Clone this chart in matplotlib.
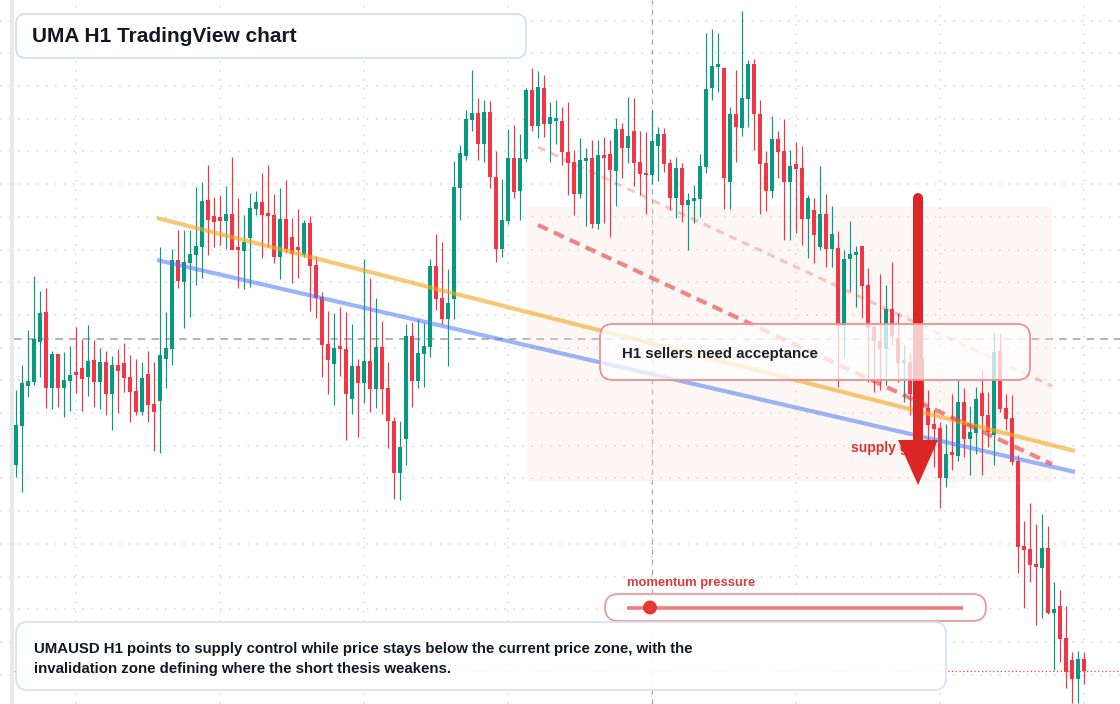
import numpy as np
import matplotlib
matplotlib.use('Agg')
import matplotlib.pyplot as plt
from matplotlib.patches import FancyBboxPatch, Rectangle, Polygon, Circle

plt.rcParams['font.family'] = ['Liberation Sans', 'DejaVu Sans']

# %% data: UMAUSD H1 candles
opens = [1.239, 1.278, 1.318, 1.322, 1.362, 1.392, 1.316, 1.350, 1.316, 1.323,
         1.332, 1.336, 1.327, 1.344, 1.322, 1.342, 1.310, 1.339, 1.341, 1.327,
         1.313, 1.292, 1.330, 1.300, 1.303, 1.345, 1.355, 1.444, 1.422, 1.441,
         1.449, 1.457, 1.504, 1.488, 1.487, 1.483, 1.490, 1.455, 1.453, 1.466,
         1.495, 1.502, 1.490, 1.489, 1.447, 1.485, 1.467, 1.457, 1.449, 1.481,
         1.439, 1.407, 1.360, 1.340, 1.356, 1.355, 1.305, 1.338, 1.321, 1.343,
         1.315, 1.357, 1.316, 1.283, 1.231, 1.265, 1.368, 1.323, 1.350, 1.357,
         1.438, 1.406, 1.385, 1.405, 1.516, 1.548, 1.584, 1.591, 1.560, 1.592,
         1.527, 1.455, 1.483, 1.546, 1.513, 1.545, 1.614, 1.578, 1.616, 1.580,
         1.583, 1.583, 1.552, 1.542, 1.510, 1.543, 1.546, 1.480, 1.549, 1.550,
         1.533, 1.575, 1.556, 1.573, 1.542, 1.530, 1.529, 1.558, 1.570, 1.541,
         1.506, 1.536, 1.499, 1.503, 1.505, 1.537, 1.616, 1.637, 1.636, 1.522,
         1.590, 1.576, 1.605, 1.640, 1.590, 1.541, 1.513, 1.565, 1.553, 1.522,
         1.540, 1.536, 1.485, 1.494, 1.457, 1.490, 1.455, 1.456, 1.378, 1.445,
         1.449, 1.458, 1.419, 1.377, 1.363, 1.355, 1.395, 1.366, 1.341, 1.342,
         1.359, 1.346, 1.296, 1.280, 1.276, 1.226, 1.250, 1.248, 1.302, 1.265,
         1.271, 1.311, 1.289, 1.269, 1.353, 1.296, 1.286, 1.243, 1.158, 1.155,
         1.140, 1.136, 1.156, 1.091, 1.098, 1.066, 1.044, 1.025, 1.045]
highs = [1.314, 1.339, 1.374, 1.428, 1.413, 1.416, 1.353, 1.350, 1.352, 1.358,
         1.377, 1.365, 1.379, 1.364, 1.356, 1.353, 1.348, 1.355, 1.361, 1.349,
         1.345, 1.342, 1.353, 1.342, 1.457, 1.392, 1.455, 1.474, 1.474, 1.474,
         1.517, 1.522, 1.539, 1.507, 1.509, 1.518, 1.547, 1.506, 1.489, 1.511,
         1.513, 1.531, 1.539, 1.510, 1.516, 1.524, 1.486, 1.495, 1.484, 1.488,
         1.448, 1.412, 1.393, 1.391, 1.397, 1.392, 1.380, 1.345, 1.445, 1.426,
         1.406, 1.383, 1.342, 1.287, 1.283, 1.380, 1.382, 1.385, 1.381, 1.445,
         1.470, 1.462, 1.435, 1.543, 1.559, 1.594, 1.634, 1.606, 1.604, 1.603,
         1.553, 1.525, 1.575, 1.579, 1.570, 1.616, 1.636, 1.633, 1.629, 1.602,
         1.604, 1.597, 1.602, 1.554, 1.566, 1.556, 1.564, 1.564, 1.567, 1.564,
         1.586, 1.581, 1.607, 1.606, 1.573, 1.572, 1.594, 1.577, 1.576, 1.545,
         1.547, 1.541, 1.511, 1.519, 1.550, 1.671, 1.675, 1.671, 1.637, 1.597,
         1.634, 1.693, 1.644, 1.645, 1.604, 1.553, 1.588, 1.573, 1.585, 1.554,
         1.562, 1.558, 1.509, 1.506, 1.538, 1.510, 1.498, 1.473, 1.454, 1.483,
         1.458, 1.458, 1.436, 1.379, 1.430, 1.419, 1.442, 1.391, 1.359, 1.351,
         1.369, 1.354, 1.314, 1.294, 1.282, 1.280, 1.310, 1.324, 1.316, 1.298,
         1.317, 1.334, 1.312, 1.372, 1.371, 1.310, 1.309, 1.249, 1.183, 1.201,
         1.180, 1.190, 1.178, 1.122, 1.114, 1.098, 1.052, 1.053, 1.052]
lows = [1.227, 1.212, 1.307, 1.319, 1.327, 1.296, 1.295, 1.297, 1.287, 1.293,
        1.311, 1.293, 1.308, 1.297, 1.295, 1.289, 1.274, 1.291, 1.312, 1.282,
        1.289, 1.289, 1.282, 1.253, 1.251, 1.316, 1.339, 1.416, 1.376, 1.387,
        1.419, 1.426, 1.449, 1.457, 1.459, 1.455, 1.454, 1.416, 1.415, 1.417,
        1.489, 1.446, 1.457, 1.441, 1.425, 1.451, 1.421, 1.426, 1.447, 1.393,
        1.386, 1.327, 1.310, 1.299, 1.328, 1.264, 1.290, 1.267, 1.301, 1.292,
        1.296, 1.290, 1.256, 1.205, 1.204, 1.239, 1.297, 1.316, 1.317, 1.347,
        1.394, 1.380, 1.338, 1.385, 1.484, 1.544, 1.573, 1.544, 1.542, 1.516,
        1.442, 1.447, 1.480, 1.506, 1.484, 1.542, 1.573, 1.566, 1.567, 1.542,
        1.560, 1.539, 1.509, 1.489, 1.506, 1.478, 1.476, 1.475, 1.481, 1.467,
        1.498, 1.526, 1.541, 1.518, 1.509, 1.490, 1.520, 1.523, 1.532, 1.494,
        1.486, 1.482, 1.454, 1.481, 1.487, 1.531, 1.604, 1.612, 1.495, 1.495,
        1.542, 1.568, 1.577, 1.554, 1.490, 1.493, 1.506, 1.526, 1.464, 1.464,
        1.471, 1.459, 1.446, 1.441, 1.454, 1.437, 1.437, 1.317, 1.347, 1.413,
        1.397, 1.386, 1.322, 1.312, 1.314, 1.319, 1.359, 1.322, 1.302, 1.289,
        1.314, 1.284, 1.264, 1.237, 1.196, 1.217, 1.234, 1.243, 1.247, 1.229,
        1.250, 1.229, 1.257, 1.239, 1.292, 1.274, 1.239, 1.131, 1.096, 1.122,
        1.079, 1.086, 1.090, 1.034, 1.042, 1.016, 1.001, 1.001, 1.020]
closes = [1.279, 1.321, 1.323, 1.365, 1.391, 1.316, 1.350, 1.316, 1.324, 1.329,
          1.329, 1.325, 1.343, 1.322, 1.342, 1.310, 1.339, 1.333, 1.326, 1.312,
          1.292, 1.326, 1.299, 1.292, 1.349, 1.356, 1.444, 1.423, 1.442, 1.450,
          1.458, 1.503, 1.484, 1.482, 1.483, 1.490, 1.454, 1.454, 1.462, 1.496,
          1.502, 1.489, 1.488, 1.447, 1.485, 1.455, 1.450, 1.454, 1.481, 1.438,
          1.406, 1.359, 1.344, 1.356, 1.355, 1.310, 1.338, 1.321, 1.343, 1.315,
          1.357, 1.315, 1.283, 1.231, 1.257, 1.368, 1.323, 1.351, 1.358, 1.438,
          1.405, 1.385, 1.401, 1.517, 1.551, 1.585, 1.591, 1.560, 1.592, 1.527,
          1.455, 1.484, 1.546, 1.512, 1.546, 1.614, 1.578, 1.617, 1.580, 1.587,
          1.586, 1.552, 1.541, 1.510, 1.544, 1.546, 1.480, 1.549, 1.546, 1.534,
          1.575, 1.556, 1.568, 1.541, 1.530, 1.529, 1.563, 1.570, 1.540, 1.506,
          1.536, 1.499, 1.504, 1.506, 1.538, 1.615, 1.638, 1.638, 1.526, 1.590,
          1.577, 1.606, 1.640, 1.590, 1.540, 1.513, 1.565, 1.552, 1.522, 1.538,
          1.535, 1.485, 1.506, 1.469, 1.490, 1.455, 1.470, 1.378, 1.445, 1.450,
          1.450, 1.418, 1.376, 1.363, 1.355, 1.395, 1.368, 1.341, 1.342, 1.310,
          1.332, 1.296, 1.279, 1.275, 1.226, 1.250, 1.249, 1.302, 1.265, 1.272,
          1.305, 1.288, 1.272, 1.352, 1.295, 1.285, 1.242, 1.157, 1.154, 1.139,
          1.137, 1.156, 1.091, 1.095, 1.065, 1.032, 1.025, 1.045, 1.033]

# drawn levels (index, price)
orange_x, orange_y = [23.55, 176.55], [1.486, 1.253]
blue_x, blue_y = [23.55, 176.55], [1.444, 1.232]
sell_x, sell_y = [87.05, 172.7], [1.479, 1.240]
sell2_x, sell2_y = [87.05, 172.7], [1.557, 1.318]
zone_x, zone_y = [85.2, 172.7], [1.222, 1.497]
cross_i, cross_p = 106, 1.3655

GREEN = '#089981'
RED = '#f23645'

fig = plt.figure(figsize=(11.2, 7.04), dpi=100)
ax = fig.add_axes([0, 0, 1, 1])
ax.set_xlim(-2.617, 184.05)
ax.set_ylim(1.000, 1.704)
for s in ax.spines.values():
    s.set_visible(False)
ax.tick_params(left=False, bottom=False, labelleft=False, labelbottom=False)

# dotted grid
ax.set_yticks(np.arange(1.6833, 1.0, -0.0327))
ax.set_xticks(np.arange(10, 184, 24))
ax.grid(True, color='#d6d6d6', linestyle=(0, (1, 5)), linewidth=1.1, zorder=0)
ax.set_axisbelow(True)

# crosshair + last price
ax.axhline(cross_p, xmin=0.0125, color='#9e9e9e', linestyle=(0, (5, 4)), linewidth=1.1, zorder=1)
ax.axvline(cross_i, color='#a8a8a8', linestyle=(0, (4, 4)), linewidth=0.9, zorder=1)
ax.axhline(closes[-1], xmin=0.0125, color=RED, linestyle=(0, (1, 2)), linewidth=0.9, zorder=1)

# zone
ax.add_patch(Rectangle((zone_x[0], zone_y[0]), zone_x[1] - zone_x[0], zone_y[1] - zone_y[0],
                       facecolor='#f6e4dc', alpha=0.28, edgecolor='none', zorder=1))

# candles
o = np.array(opens); h = np.array(highs); l = np.array(lows); c = np.array(closes)
idx = np.arange(len(o))
cols = np.where(c >= o, GREEN, RED)
ax.vlines(idx, l, h, colors=cols, linewidth=0.85, zorder=3)
body_lo = np.minimum(o, c)
body_h = np.maximum(np.abs(c - o), 0.0025)
ax.bar(idx, body_h, bottom=body_lo, width=0.68, color=cols, linewidth=0, zorder=4)

# trend lines
ax.plot(orange_x, orange_y, color='#f5a623', alpha=0.62, linewidth=3.0, zorder=5, solid_capstyle='butt')
ax.plot(blue_x, blue_y, color='#4a78f0', alpha=0.55, linewidth=3.0, zorder=5, solid_capstyle='butt')
ax.plot(sell_x, sell_y, color='#e53935', alpha=0.6, linewidth=3.0, dashes=(2.6, 1.6), zorder=5)
ax.plot(sell2_x, sell2_y, color='#e53935', alpha=0.28, linewidth=2.2, dashes=(2.6, 2.0), zorder=5)

# overlay in pixel coordinates for annotations
ov = fig.add_axes([0, 0, 1, 1])
ov.set_xlim(0, 1120)
ov.set_ylim(704, 0)
ov.axis('off')
ov.patch.set_alpha(0)

ov.add_patch(Rectangle((10, 0), 4, 704, facecolor='#e9e9e9', edgecolor='none'))

ov.add_patch(FancyBboxPatch((16, 14), 510, 44, boxstyle='round,pad=0,rounding_size=10',
                            facecolor='white', edgecolor='#cddbf3', linewidth=1.2, zorder=5))
ov.text(32, 37, 'UMA H1 TradingView chart', fontsize=15, fontweight='bold',
        color='#131722', va='center', ha='left', zorder=6)

ov.text(851, 448, 'supply gap', fontsize=10, fontweight='bold', color='#e03131',
        va='center', ha='left', zorder=2)
ov.plot([918, 918], [198, 442], color='#dc2626', linewidth=7.2, solid_capstyle='round', zorder=3)
ov.add_patch(Polygon([(898, 440), (938, 440), (918, 485)], closed=True,
                     facecolor='#dc2626', edgecolor='none', zorder=3))

ov.add_patch(FancyBboxPatch((600, 324), 430, 56, boxstyle='round,pad=0,rounding_size=13',
                            facecolor=(1, 1, 1, 0.75), edgecolor='#ef8f8f', linewidth=1.3, zorder=4))
ov.text(622, 354, 'H1 sellers need acceptance', fontsize=10.8, fontweight='bold',
        color='#1b1f2a', va='center', ha='left', zorder=6)

ov.text(627, 583, 'momentum pressure', fontsize=9.4, fontweight='bold', color='#e0393e',
        va='center', ha='left', zorder=6)
ov.add_patch(FancyBboxPatch((605, 594), 381, 27, boxstyle='round,pad=0,rounding_size=13.5',
                            facecolor='white', edgecolor='#ef9a9a', linewidth=1.3, zorder=5))
ov.plot([627, 963], [607.5, 607.5], color='#ef7f7f', linewidth=2.6, zorder=6, solid_capstyle='butt')
ov.add_patch(Circle((650, 607.5), 7, facecolor='#e53935', edgecolor='none', zorder=7))

ov.add_patch(FancyBboxPatch((16, 622), 930, 68, boxstyle='round,pad=0,rounding_size=12',
                            facecolor=(1, 1, 1, 0.92), edgecolor='#d3e1f5', linewidth=1.2, zorder=5))
ov.text(34, 648.5, 'UMAUSD H1 points to supply control while price stays below the current price zone, with the',
        fontsize=10.85, fontweight='bold', color='#131722', va='center', ha='left', zorder=6)
ov.text(34, 668.5, 'invalidation zone defining where the short thesis weakens.',
        fontsize=10.85, fontweight='bold', color='#131722', va='center', ha='left', zorder=6)

fig.savefig('out.png', dpi=100)
